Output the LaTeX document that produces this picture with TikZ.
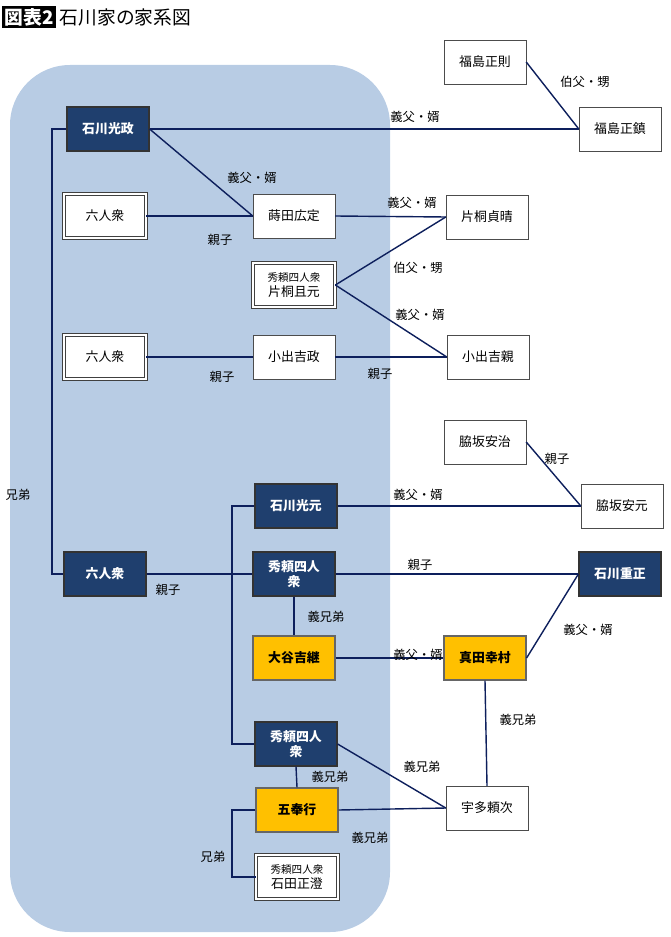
\documentclass[tikz,border=0pt]{standalone}
\usepackage{fontspec}
\setmainfont{Noto Sans CJK JP}
\usetikzlibrary{positioning}
\definecolor{navy}{HTML}{1F3F6E}
\definecolor{gold}{HTML}{FFC000}
\definecolor{band}{HTML}{B8CCE4}
\definecolor{wire}{HTML}{0D1F5C}
\tikzset{
  box/.style={draw=black!70,minimum width=2.46cm,minimum height=1.32cm,inner sep=1pt,align=center,font=\fontsize{11}{13}\selectfont},
  plain/.style={box,fill=white},
  twin/.style={box,fill=white,double=white,double distance=1.5pt,draw=black!75,line width=0.6pt},
  dark/.style={box,fill=navy,text=white,draw=black!80,line width=1pt,font=\bfseries\fontsize{11}{13}\selectfont},
  gold/.style={box,fill=gold,draw=black!60,line width=1pt,font=\bfseries\fontsize{11}{13}\selectfont},
  link/.style={draw=wire,line width=1.2pt},
  lab/.style={font=\fontsize{10.5}{12}\selectfont,inner sep=0pt}
}
\begin{document}
\begin{tikzpicture}[x=0.03cm,y=-0.03cm]
\useasboundingbox (0,0) rectangle (670,937);
\fill[band,rounded corners=1.8cm] (10,65) rectangle (390,932);

% title
\node[fill=black,text=white,anchor=west,inner sep=2pt,font=\bfseries\fontsize{16}{18}\selectfont] (tag) at (2,17) {図表2};
\node[anchor=west,inner sep=3pt,font=\fontsize{16}{18}\selectfont] (title) at (tag.east) {石川家の家系図};

% people
\node[dark] (mitsumasa) at (108,129) {石川光政};
\node[plain] (masanori) at (485,62) {福島正則};
\node[plain] (masashige) at (620,129) {福島正鎮};
\node[twin] (roku1) at (105,216) {六人衆};
\node[plain] (hirosada) at (294,216) {蒔田広定};
\node[plain] (sadaharu) at (487,217) {片桐貞晴};
\node[twin] (katsumoto) at (294,285) {{\fontsize{9}{10}\selectfont 秀頼四人衆}\\片桐且元};
\node[twin] (roku2) at (105,357) {六人衆};
\node[plain] (yoshimasa) at (294,357) {小出吉政};
\node[plain] (yoshichika) at (488,357) {小出吉親};
\node[plain] (yasuharu) at (485,442) {脇坂安治};
\node[plain] (yasumoto) at (622,506) {脇坂安元};
\node[dark] (mitsumoto) at (296,506) {石川光元};
\node[dark] (roku3) at (105,574) {六人衆};
\node[dark] (yon1) at (294,574) {秀頼四人\\衆};
\node[dark] (shigemasa) at (620,574) {石川重正};
\node[gold] (yoshitsugu) at (294,658) {大谷吉継};
\node[gold] (yukimura) at (485,658) {真田幸村};
\node[dark] (yon2) at (296,744) {秀頼四人\\衆};
\node[plain] (yoritsugu) at (487,808) {宇多頼次};
\node[gold] (bugyo) at (297,810) {五奉行};
\node[twin] (masazumi) at (297,877) {{\fontsize{9}{10}\selectfont 秀頼四人衆}\\石田正澄};

% links
\draw[link] (mitsumasa.west) -| (52,400) |- (roku3.west);
\draw[link] (mitsumoto.west) -| (232,625) |- (yon2.west);
\draw[link] (bugyo.west) -| (232,840) |- (masazumi.west);
\foreach \a/\b in {mitsumasa/masashige,mitsumasa/hirosada,roku1/hirosada,hirosada/sadaharu,
  katsumoto/sadaharu,katsumoto/yoshichika,roku2/yoshimasa,yoshimasa/yoshichika,
  masanori/masashige,yasuharu/yasumoto,mitsumoto/yasumoto,roku3/yon1,yon1/shigemasa,
  yoshitsugu/yukimura,yukimura/shigemasa,yon2/yoritsugu,bugyo/yoritsugu}
  \draw[link] (\a.east) -- (\b.west);
\foreach \a/\b in {yon1/yoshitsugu,yukimura/yoritsugu,yon2/bugyo}
  \draw[link] (\a.south) -- (\b.north);

% labels
\foreach \x/\y/\t in {18/495/兄弟,415/117/義父・婿,585/82/伯父・甥,252/178/義父・婿,
  220/240/親子,412/203/義父・婿,418/268/伯父・甥,420/315/義父・婿,222/377/親子,
  380/374/親子,557/459/親子,418/495/義父・婿,168/590/親子,420/565/親子,
  326/617/義兄弟,418/655/義父・婿,588/630/義父・婿,518/720/義兄弟,422/767/義兄弟,
  330/777/義兄弟,370/838/義兄弟,213/857/兄弟}
  \node[lab] (l\x-\y) at (\x,\y) {\t};
\end{tikzpicture}
\end{document}
